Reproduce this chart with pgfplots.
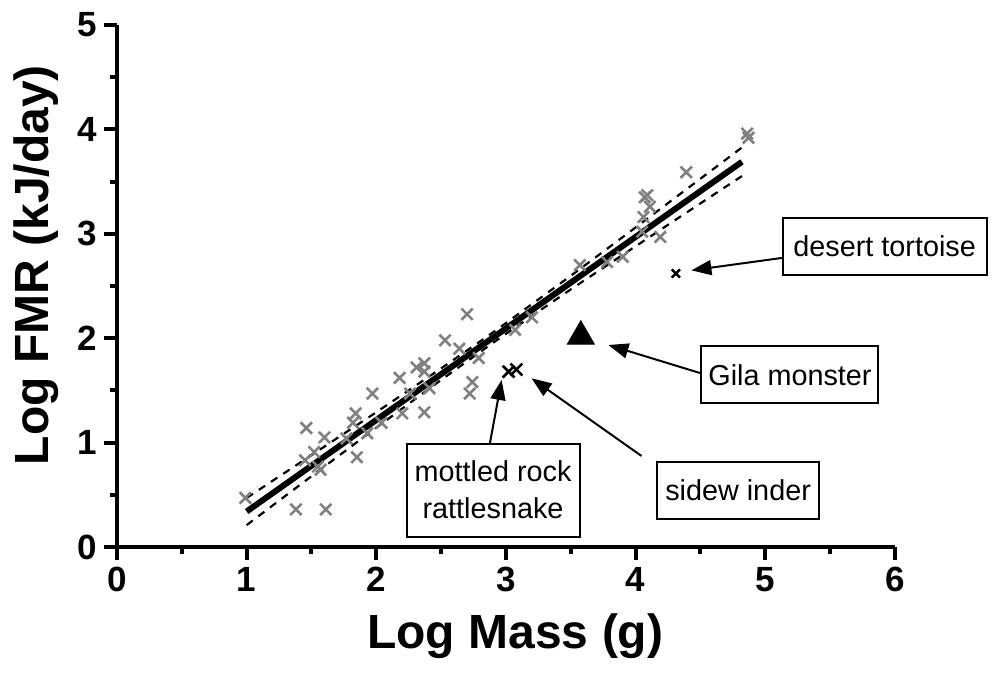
\documentclass[border=0pt]{standalone}
\usepackage{pgfplots}
\pgfplotsset{compat=1.18}
\usepackage{fontspec}
\setmainfont{Liberation Sans}
\usetikzlibrary{arrows.meta}
\definecolor{ptgray}{RGB}{128,128,128}
\begin{document}
\begin{tikzpicture}
\begin{axis}[
  anchor=origin, at={(0,0)},
  scale only axis, width=389pt, height=261pt,
  xmin=0, xmax=6, ymin=0, ymax=5,
  axis lines=left, axis line style={line width=2pt, -},
  xtick={0,1,2,3,4,5,6}, ytick={0,1,2,3,4,5},
  minor x tick num=1, minor y tick num=1,
  tick align=outside,
  major tick length=6.5pt, minor tick length=3.5pt,
  every tick/.style={black, line width=2pt},
  tick label style={font=\fontsize{17.5}{20}\selectfont\bfseries},
  /pgf/number format/assume math mode=true,
  xlabel={Log Mass (g)}, ylabel={Log FMR (kJ/day)},
  label style={font=\fontsize{24}{28}\selectfont\bfseries},
  xlabel style={at={([yshift=-50.5pt]axis description cs:0.512,0)}, anchor=base},
  ylabel style={at={([xshift=-34pt]axis description cs:0,0.54)}, anchor=base},
  clip=false,
]
\addplot[only marks, mark=x, mark size=4pt, color=ptgray, mark options={line width=1.3pt}] coordinates {
(0.99,0.47) (1.38,0.36) (1.61,0.36) (1.46,1.14) (1.60,1.05) (1.52,0.91)
(1.45,0.83) (1.55,0.77) (1.57,0.74) (1.85,0.86) (1.77,1.04) (1.84,1.28)
(1.82,1.19) (1.93,1.09) (1.97,1.47) (2.04,1.19) (2.20,1.28) (2.37,1.29)
(2.18,1.62) (2.26,1.47) (2.31,1.72) (2.37,1.76) (2.37,1.68) (2.41,1.52)
(2.53,1.98) (2.64,1.90) (2.70,2.23) (2.79,1.81) (2.74,1.58) (2.72,1.47)
(3.07,2.08) (3.20,2.20) (3.57,2.70) (3.78,2.73) (3.90,2.78) (4.05,3.02)
(4.06,3.16) (4.07,3.35) (4.09,3.37) (4.11,3.26) (4.19,2.97) (4.39,3.59)
(4.86,3.96) (4.87,3.92)
};
\addplot[black, line width=3pt] coordinates {(1.0,0.340) (4.82,3.690)};
\addplot[black, line width=1.1pt, dash pattern=on 3.8pt off 3.5pt] coordinates {
(1.0,0.470) (1.5,0.880) (2.0,1.291) (2.5,1.711) (2.85,2.012) (3.0,2.145)
(3.5,2.598) (4.0,3.061) (4.5,3.528) (4.82,3.827)};
\addplot[black, line width=1.1pt, dash pattern=on 3.8pt off 3.5pt] coordinates {
(1.0,0.210) (1.5,0.678) (2.0,1.143) (2.5,1.601) (2.85,1.912) (3.0,2.043)
(3.5,2.468) (4.0,2.881) (4.5,3.292) (4.82,3.553)};
\addplot[only marks, mark=x, mark size=4.2pt, black, mark options={line width=1.3pt}] coordinates {(3.02,1.68) (3.08,1.70)};
\addplot[only marks, mark=x, mark size=2.9pt, black, mark options={line width=1.2pt}] coordinates {(4.31,2.62)};
\addplot[only marks, mark=triangle*, mark size=7.8pt, black] coordinates {(3.577,2.018)};
\begin{scope}[every node/.style={draw, line width=1pt, inner sep=0pt, fill=white, font=\fontsize{14.4}{18.5}\selectfont}]
\node[minimum width=102pt, minimum height=28.5pt] at (axis cs:5.92,2.88) {desert tortoise};
\node[minimum width=88.5pt, minimum height=28.5pt] at (axis cs:5.19,1.65) {Gila monster};
\node[minimum width=81pt, minimum height=28.5pt] at (axis cs:4.79,0.546) {sidew inder};
\node[minimum width=86.5pt, minimum height=46.5pt, align=center] at (axis cs:2.90,0.546) {mottled rock\\rattlesnake};
\end{scope}
\begin{scope}[line width=1pt, -{Triangle[length=10pt,width=7.5pt]}]
\draw (axis cs:5.135,2.77) -- (axis cs:4.43,2.65);
\draw (axis cs:4.495,1.667) -- (axis cs:3.79,1.935);
\draw (axis cs:4.045,0.872) -- (axis cs:3.197,1.616);
\draw (axis cs:2.876,0.993) -- (axis cs:2.966,1.60);
\end{scope}
\end{axis}
\pgfresetboundingbox
\path (-58.5pt,-67pt) rectangle (437.5pt,273.5pt);
\end{tikzpicture}
\end{document}
